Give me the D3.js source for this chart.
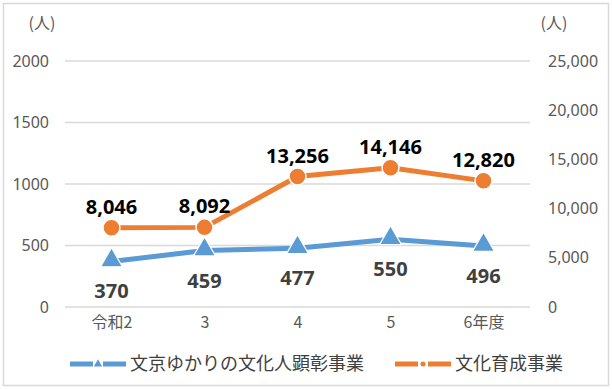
<!DOCTYPE html>
<meta charset="UTF-8">
<style>
body { margin: 0; background: #fff; }
text { font-family: "Noto Sans CJK JP", "Noto Sans", sans-serif; }
.tick text { fill: #595959; font-size: 16px; font-family: "Noto Sans", "Noto Sans CJK JP", sans-serif; }
.xax .tick text { font-family: "Noto Sans CJK JP", sans-serif; }
</style>
<body>
<script src="https://cdnjs.cloudflare.com/ajax/libs/d3/7.8.5/d3.min.js"></script>
<script>
// data
const years = ["令和2", "3", "4", "5", "6年度"];
const kenshoValues = [370, 459, 477, 550, 496];      // 文京ゆかりの文化人顕彰事業 (left axis)
const ikuseiValues = [8046, 8092, 13256, 14146, 12820]; // 文化育成事業 (right axis)
const leftTicks = [0, 500, 1000, 1500, 2000];
const rightTicks = [0, 5000, 10000, 15000, 20000, 25000];
const seriesNames = ["文京ゆかりの文化人顕彰事業", "文化育成事業"];

const W = 612, H = 389;
const margin = {top: 61, right: 82, bottom: 82, left: 65};
const blue = "#5B9BD5", orange = "#ED7D31";

const svg = d3.select("body").append("svg")
    .attr("width", W)
    .attr("height", H);

// outer border
svg.append("rect")
    .attr("x", 3.5).attr("y", 3.5)
    .attr("width", W - 7).attr("height", H - 7)
    .attr("fill", "none").attr("stroke", "#d9d9d9").attr("stroke-width", 1.5);

const x = d3.scalePoint()
    .domain(years)
    .range([margin.left, W - margin.right])
    .padding(0.5);

const yL = d3.scaleLinear().domain([0, 2000]).range([H - margin.bottom, margin.top]);
const yR = d3.scaleLinear().domain([0, 25000]).range([H - margin.bottom, margin.top]);

// gridlines
svg.append("g")
    .selectAll("line")
    .data(leftTicks)
    .join("line")
    .attr("x1", margin.left).attr("x2", W - margin.right)
    .attr("y1", d => yL(d)).attr("y2", d => yL(d))
    .attr("stroke", "#d9d9d9").attr("stroke-width", 1.5);

// left axis
const gl = svg.append("g")
    .attr("transform", `translate(${margin.left - 16},0)`)
    .call(d3.axisLeft(yL).tickValues(leftTicks).tickSize(0).tickPadding(0).tickFormat(d3.format("d")));
gl.select(".domain").remove();

// right axis
const gr = svg.append("g")
    .attr("transform", `translate(${W - margin.right + 18},0)`)
    .call(d3.axisRight(yR).tickValues(rightTicks).tickSize(0).tickPadding(0).tickFormat(d3.format(",")));
gr.select(".domain").remove();

// x axis labels
const gx = svg.append("g")
    .attr("class", "xax")
    .attr("transform", `translate(0,${H - margin.bottom + 7})`)
    .call(d3.axisBottom(x).tickSize(0).tickPadding(0));
gx.select(".domain").remove();
gx.selectAll("text").attr("dy", "0.9em");

// unit labels
svg.append("text").attr("x", 42).attr("y", 29).attr("text-anchor", "middle")
    .attr("fill", "#595959").style("font-size", "16px").text("(人)");
svg.append("text").attr("x", 554).attr("y", 29).attr("text-anchor", "middle")
    .attr("fill", "#595959").style("font-size", "16px").text("(人)");

// lines
const lineL = d3.line().x((d, i) => x(years[i])).y(d => yL(d));
const lineR = d3.line().x((d, i) => x(years[i])).y(d => yR(d));

svg.append("path").datum(kenshoValues)
    .attr("d", lineL).attr("fill", "none")
    .attr("stroke", blue).attr("stroke-width", 5).attr("stroke-linejoin", "round");

svg.append("path").datum(ikuseiValues)
    .attr("d", lineR).attr("fill", "none")
    .attr("stroke", orange).attr("stroke-width", 5).attr("stroke-linejoin", "round");

// markers
const tri = d3.symbol().type(d3.symbolTriangle).size(210);
svg.append("g").selectAll("path")
    .data(kenshoValues)
    .join("path")
    .attr("d", tri)
    .attr("transform", (d, i) => `translate(${x(years[i])},${yL(d) - 1})`)
    .attr("fill", blue).attr("stroke", "#fff").attr("stroke-width", 1.2);

svg.append("g").selectAll("circle")
    .data(ikuseiValues)
    .join("circle")
    .attr("cx", (d, i) => x(years[i]))
    .attr("cy", d => yR(d))
    .attr("r", 8.5)
    .attr("fill", orange).attr("stroke", "#fff").attr("stroke-width", 1.5);

// data labels
svg.append("g").selectAll("text")
    .data(kenshoValues)
    .join("text")
    .attr("x", (d, i) => x(years[i]))
    .attr("y", d => yL(d) + 37)
    .attr("text-anchor", "middle")
    .attr("fill", "#404040")
    .style("font-family", "'Open Sans', sans-serif")
    .style("font-size", "20px").style("font-weight", "bold")
    .text(d => d);

svg.append("g").selectAll("text")
    .data(ikuseiValues)
    .join("text")
    .attr("x", (d, i) => x(years[i]))
    .attr("y", d => yR(d) - 14)
    .attr("text-anchor", "middle")
    .attr("fill", "#000")
    .style("font-family", "'Open Sans', sans-serif")
    .style("font-size", "20px").style("font-weight", "bold")
    .text(d => d3.format(",")(d));

// legend
const legendY = 364;
const legend = [
  {x: 70, color: blue, name: seriesNames[0], marker: "tri"},
  {x: 395, color: orange, name: seriesNames[1], marker: "dot"}
];
legend.forEach(l => {
  const g = svg.append("g");
  g.append("line").attr("x1", l.x).attr("x2", l.x + 23)
    .attr("y1", legendY).attr("y2", legendY)
    .attr("stroke", l.color).attr("stroke-width", 5);
  g.append("line").attr("x1", l.x + 33).attr("x2", l.x + 56)
    .attr("y1", legendY).attr("y2", legendY)
    .attr("stroke", l.color).attr("stroke-width", 5);
  if (l.marker === "tri") {
    g.append("path").attr("d", d3.symbol().type(d3.symbolTriangle).size(30))
      .attr("transform", `translate(${l.x + 28},${legendY})`).attr("fill", l.color);
  } else {
    g.append("circle").attr("cx", l.x + 28).attr("cy", legendY).attr("r", 2.5).attr("fill", l.color);
  }
  g.append("text").attr("x", l.x + 60).attr("y", legendY + 6)
    .attr("fill", "#404040").style("font-size", "18px").text(l.name);
});
</script>
</body>
